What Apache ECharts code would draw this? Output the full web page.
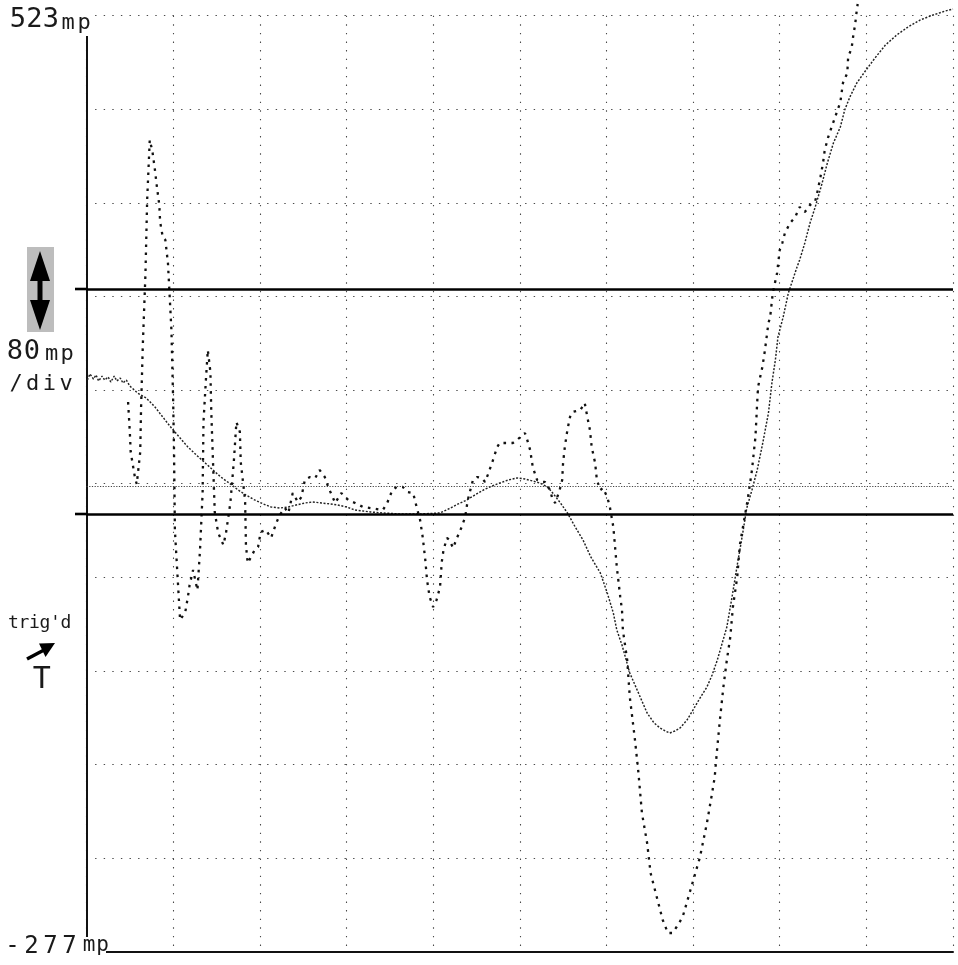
<!DOCTYPE html>
<html>
<head>
<meta charset="utf-8">
<script src="https://cdn.jsdelivr.net/npm/echarts@6/dist/echarts.min.js"></script>
<style>
  html, body { margin: 0; padding: 0; background: #fff; }
  #scope { width: 958px; height: 965px; }
</style>
</head>
<body>
<div id="scope"></div>
<script>
// Vertical scale: full screen from -277 mp to 523 mp, 80 mp per division
const yBottom = -277;
const yTop = 523;
const yPerDiv = 80;
const xDivs = 10;
const unitLabel = 'mp';
const scaleLabel = '80mp';

// Solid cursor levels and the dotted trigger level (mp)
const refLevels = [289.4, 97.1];
const trigLevel = 121;

// Trace A (fine dots): time in divisions, value in mp
const aTime = [0.01,0.04,0.08,0.11,0.14,0.18,0.21,0.25,0.28,0.32,0.35,0.39,0.42,0.46,0.50,0.59,0.69,0.79,0.88,0.98,
  1.08,1.17,1.28,1.37,1.46,1.55,1.66,1.75,1.84,1.94,2.04,2.13,2.23,2.33,2.42,2.52,2.61,2.71,2.81,2.90,
  3.00,3.10,3.19,3.28,3.42,3.62,3.85,4.08,4.20,4.29,4.39,4.48,4.58,4.68,4.77,4.87,4.97,5.06,5.15,5.23,
  5.32,5.38,5.47,5.55,5.64,5.73,5.82,5.93,6.01,6.08,6.12,6.18,6.27,6.37,6.47,6.55,6.62,6.68,6.73,6.79,
  6.85,6.93,7.00,7.08,7.16,7.22,7.28,7.33,7.39,7.45,7.51,7.57,7.62,7.68,7.74,7.80,7.87,7.91,7.95,7.98,
  8.04,8.10,8.15,8.20,8.23,8.29,8.35,8.41,8.49,8.55,8.62,8.70,8.75,8.81,8.89,8.98,9.10,9.22,9.35,9.48,
  9.62,9.77,9.91,10.00];
const aVal = [211.6,216.8,212.5,215.9,210.8,215.0,211.6,214.2,209.9,215.0,210.8,213.3,209.1,211.6,206.5,200.5,196.2,188.6,180.0,170.6,
  162.1,154.4,146.7,140.7,134.7,128.7,122.8,117.6,113.3,109.1,105.7,103.1,102.2,103.1,104.8,106.5,107.4,106.5,105.7,104.8,
  103.1,100.5,99.7,98.8,98.0,97.1,97.1,98.0,102.2,105.7,109.1,113.3,117.6,121.0,123.6,126.2,127.9,127.0,125.3,123.6,
  120.2,115.1,106.5,98.0,86.0,74.9,60.4,46.7,29.6,12.5,-2.0,-14.9,-38.8,-55.9,-73.0,-81.5,-85.8,-88.4,-90.1,-88.4,
  -85.8,-79.0,-70.4,-60.2,-50.8,-40.5,-27.7,-14.9,0.5,26.2,53.5,79.2,102.2,117.6,134.7,156.1,183.4,209.1,228.7,248.4,
  265.5,286.0,297.1,308.2,314.2,328.7,345.8,359.5,380.0,397.1,414.2,427.9,442.4,453.5,465.5,474.9,486.9,497.9,506.5,513.3,
  519.3,523.6,527.0,528.7];

// Trace B (coarse dots): time in divisions, value in mp
const bTime = [0.48,0.50,0.51,0.56,0.58,0.62,0.63,0.65,0.68,0.70,0.73,0.76,0.79,0.81,0.84,0.85,0.88,0.91,0.94,0.98,
  1.00,1.01,1.02,1.06,1.08,1.14,1.17,1.19,1.23,1.28,1.31,1.34,1.35,1.38,1.40,1.43,1.44,1.48,1.52,1.58,
  1.61,1.66,1.70,1.73,1.77,1.78,1.83,1.84,1.86,1.90,1.94,1.98,2.01,2.07,2.13,2.19,2.23,2.29,2.33,2.38,
  2.44,2.48,2.52,2.58,2.64,2.69,2.75,2.79,2.87,2.94,3.02,3.10,3.19,3.42,3.47,3.53,3.58,3.65,3.71,3.77,
  3.81,3.85,3.88,3.91,3.93,3.96,4.00,4.04,4.08,4.10,4.12,4.16,4.19,4.23,4.28,4.33,4.37,4.40,4.46,4.51,
  4.56,4.60,4.63,4.68,4.74,4.77,4.92,4.97,5.03,5.06,5.08,5.12,5.15,5.20,5.26,5.29,5.35,5.38,5.41,5.46,
  5.49,5.50,5.52,5.55,5.58,5.61,5.70,5.75,5.78,5.81,5.83,5.87,5.89,5.93,5.96,6.01,6.04,6.08,6.10,6.12,
  6.16,6.18,6.19,6.24,6.27,6.33,6.37,6.41,6.47,6.51,6.59,6.65,6.71,6.76,6.81,6.88,6.97,7.08,7.16,7.22,
  7.25,7.28,7.31,7.35,7.39,7.43,7.46,7.51,7.54,7.60,7.63,7.68,7.72,7.74,7.75,7.80,7.83,7.87,7.89,7.92,
  7.97,8.00,8.03,8.06,8.12,8.18,8.23,8.29,8.35,8.41,8.44,8.47,8.50,8.52,8.56,8.60,8.64,8.70,8.73,8.78,
  8.79,8.83,8.85,8.87,8.89,8.90];
const bVal = [192.8,167.2,150.1,127.9,122.7,150.1,188.5,241.5,301.4,365.5,416.8,407.4,391.1,378.3,361.2,346.7,333.8,331.3,311.6,254.4,
  194.5,151.8,83.4,32.1,6.5,13.3,26.2,36.4,49.2,32.1,66.3,115.0,175.7,214.2,237.3,218.5,184.3,98.8,80.9,70.6,
  80.9,106.5,141.5,175.7,167.2,141.5,109.1,70.6,55.2,60.4,66.3,68.9,81.7,83.4,76.6,89.4,96.3,102.2,97.9,115.0,
  107.4,111.6,126.2,128.7,127.9,134.7,128.7,120.2,106.5,115.0,109.1,106.5,103.1,100.5,106.5,117.6,120.2,120.2,115.9,115.0,
  103.1,92.0,77.4,57.8,40.7,26.2,17.6,23.6,34.7,56.1,66.3,76.6,74.9,68.0,77.4,86.0,94.5,109.1,126.2,128.7,
  127.9,124.5,130.4,140.7,154.4,157.8,157.8,160.4,164.6,166.3,162.1,151.8,137.3,126.2,124.5,124.5,117.6,109.1,106.5,117.6,
  126.2,140.7,154.4,168.9,180.0,184.3,186.0,192.0,180.0,168.9,154.4,140.7,126.2,117.6,119.3,111.6,103.1,86.0,68.9,51.8,
  26.2,15.1,-2.0,-27.7,-59.3,-96.1,-124.3,-158.5,-184.1,-209.8,-232.8,-249.9,-261.0,-261.0,-255.9,-247.3,-224.3,-196.1,-167.1,-141.4,
  -127.7,-102.0,-78.9,-50.8,-27.7,-8.0,17.6,43.4,70.6,96.3,109.1,134.7,162.9,192.0,205.7,222.7,237.3,260.3,265.5,286.0,
  303.1,322.7,328.7,337.3,345.8,351.0,359.5,355.2,361.2,364.6,374.0,385.1,397.1,408.2,419.3,427.9,436.4,449.2,465.5,474.0,
  487.7,495.4,506.5,515.1,527.9,533.0];

const zip = (t, v) => t.map((x, i) => [x, v[i]]);

const FONT = '"DejaVu Sans Mono", monospace';
const INK = '#1a1a1a';

// Monospaced plotter-style lettering: one glyph per cell, centred at a fixed pitch
function lettering(str, cx0, cy, size, pitch) {
  return str.split('').map((ch, i) => ({
    type: 'text', z: 60, silent: true,
    style: {
      text: ch, x: cx0 + i * pitch, y: cy,
      font: size + 'px ' + FONT, fill: INK,
      align: 'center', verticalAlign: 'middle',
      textAlign: 'center', textVerticalAlign: 'middle'
    }
  }));
}

const chart = echarts.init(document.getElementById('scope'), null, { renderer: 'canvas' });

const gridDots = { color: '#4a4a4a', width: 1.1, type: [1.4, 7.2] };

const option = {
  animation: false,
  backgroundColor: '#ffffff',
  grid: { left: 86.5, right: 5, top: 15.7, bottom: 13.3, containLabel: false },
  xAxis: {
    type: 'value', min: 0, max: xDivs, interval: 1,
    axisLine: { show: true, onZero: false, lineStyle: { color: '#111', width: 2 } },
    axisTick: { show: false }, axisLabel: { show: false },
    splitLine: { show: true, lineStyle: gridDots }
  },
  yAxis: {
    type: 'value', min: yBottom, max: yTop, interval: yPerDiv,
    axisLine: { show: true, onZero: false, lineStyle: { color: '#111', width: 2 } },
    axisTick: { show: false }, axisLabel: { show: false },
    splitLine: { show: true, lineStyle: gridDots }
  },
  series: [
    {
      name: 'A', type: 'line', data: zip(aTime, aVal),
      showSymbol: false, clip: false, z: 3,
      lineStyle: { color: '#222', width: 1.45, type: [2, 1.6] },
      markLine: {
        silent: true, symbol: 'none', label: { show: false },
        data: [
          { yAxis: refLevels[0], lineStyle: { color: '#000', width: 2.6, type: 'solid' } },
          { yAxis: refLevels[1], lineStyle: { color: '#000', width: 2.6, type: 'solid' } },
          { yAxis: trigLevel, lineStyle: { color: '#444', width: 1.2, type: [1.2, 1.5] } }
        ]
      }
    },
    {
      name: 'B', type: 'line', data: zip(bTime, bVal),
      showSymbol: false, clip: false, z: 4,
      lineStyle: { color: '#111', width: 2.3, type: [2.6, 5.4] }
    }
  ]
};
chart.setOption(option);

// Panel lettering and symbols
const py = v => chart.convertToPixel({ yAxisIndex: 0 }, v);
const left = 86.5;
const graphics = [
  // clear the axis where the range labels sit
  { type: 'rect', z: 55, silent: true, shape: { x: 0, y: 0, width: 93, height: 36 }, style: { fill: '#fff' } },
  { type: 'rect', z: 55, silent: true, shape: { x: 0, y: 937, width: 106, height: 28 }, style: { fill: '#fff' } },
  // cursor lines run slightly past the axis
  ...refLevels.map(v => ({ type: 'line', z: 56, silent: true,
    shape: { x1: 75, y1: py(v), x2: left, y2: py(v) }, style: { stroke: '#000', lineWidth: 2.6 } })),
  // volts-per-division selector box with double arrow
  { type: 'rect', z: 56, silent: true, shape: { x: 27, y: 247, width: 27, height: 85 }, style: { fill: '#bdbdbd' } },
  { type: 'line', z: 57, silent: true, shape: { x1: 40, y1: 268, x2: 40, y2: 312 }, style: { stroke: '#000', lineWidth: 5 } },
  { type: 'polygon', z: 57, silent: true, shape: { points: [[40, 251], [30, 281], [50, 281]] }, style: { fill: '#000' } },
  { type: 'polygon', z: 57, silent: true, shape: { points: [[40, 330], [30, 300], [50, 300]] }, style: { fill: '#000' } },
  // trigger arrow
  { type: 'line', z: 57, silent: true, shape: { x1: 27, y1: 659, x2: 44, y2: 650 }, style: { stroke: '#000', lineWidth: 3.5 } },
  { type: 'polygon', z: 57, silent: true, shape: { points: [[55, 643], [39, 643.5], [45.5, 657]] }, style: { fill: '#000' } },
  // range and scale lettering
  ...lettering(String(yTop), 18, 20, 27, 16.5),
  ...lettering(unitLabel, 68, 23.5, 22, 16),
  ...lettering(scaleLabel.slice(0, 2), 15, 352, 27, 17),
  ...lettering(unitLabel, 51.5, 354, 22, 15.5),
  ...lettering('/div', 16, 384, 22, 16.7),
  ...lettering(String(yBottom), 12.5, 946.5, 24, 19),
  ...lettering(unitLabel, 89, 946, 21, 13.5),
  ...lettering("trig'd", 13.5, 623.5, 18, 10.5),
  ...lettering('T', 41.7, 680, 30, 0)
];
chart.setOption({ graphic: graphics });
</script>
</body>
</html>
